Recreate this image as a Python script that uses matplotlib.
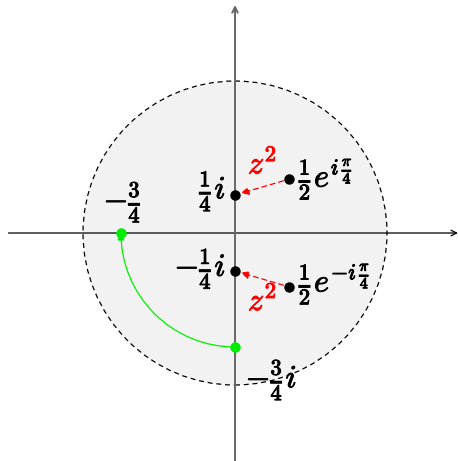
import numpy as np
import matplotlib.pyplot as plt
import matplotlib.patheffects as pe
from matplotlib.patches import Circle, FancyArrowPatch
from matplotlib.path import Path

plt.rcParams['mathtext.fontset'] = 'cm'

# points in the complex plane (re, im)
w_up = (np.sqrt(2) / 4, np.sqrt(2) / 4)      # 1/2 e^{i pi/4}
w_down = (np.sqrt(2) / 4, -np.sqrt(2) / 4)   # 1/2 e^{-i pi/4}
z_up = (0.0, 0.25)
z_down = (0.0, -0.25)
g_start = (0.0, -0.75)
g_end = (-0.75, 0.0)
radius = 1.0

fig = plt.figure(figsize=(4.58, 4.61), dpi=100)
ax = fig.add_axes([0, 0, 1, 1])
ax.set_xlim(-1.546, 1.467)
ax.set_ylim(-1.5, 1.533)
ax.set_aspect('equal')
ax.axis('off')

# unit disc
ax.add_patch(Circle((0, 0), radius, facecolor='#f2f2f2', edgecolor='black',
                    linestyle=(0, (4, 3)), linewidth=0.9, zorder=1))

# axes
ax.annotate('', xy=(1.467, 0), xytext=(-1.49, 0),
            arrowprops=dict(arrowstyle='->', color='black', lw=0.9,
                            shrinkA=0, shrinkB=0), zorder=2)
ax.annotate('', xy=(0, 1.5), xytext=(0, -1.5),
            arrowprops=dict(arrowstyle='->', color='#666666', lw=1.4,
                            shrinkA=0, shrinkB=0), zorder=2)

# z^2 arrows
for src, dst in [(w_up, z_up), (w_down, z_down)]:
    ax.annotate('', xy=dst, xytext=src,
                arrowprops=dict(arrowstyle='-|>,head_length=0.5,head_width=0.22',
                                color='red', lw=0.9, linestyle=(0, (4, 3)),
                                shrinkA=4, shrinkB=4), zorder=3)

# green quarter arc from -3/4 i to -3/4
arc = Path.arc(180, 270)
verts = arc.vertices[::-1] * 0.75
ax.add_patch(FancyArrowPatch(path=Path(verts, arc.codes),
                             arrowstyle='-|>,head_length=4,head_width=2',
                             color='#00ee00', lw=0.9, shrinkA=4, shrinkB=4,
                             zorder=3))

# points
for p in [w_up, w_down, z_up, z_down]:
    ax.plot(*p, 'o', color='black', ms=6.5, zorder=4)
for p in [g_start, g_end]:
    ax.plot(*p, 'o', color='#00ee00', ms=6.5, zorder=4)

fs = 23
bold_k = [pe.withStroke(linewidth=0.7, foreground='black')]
bold_r = [pe.withStroke(linewidth=0.7, foreground='red')]

ax.text(-0.06, 0.27, r'$\frac{1}{4}i$', fontsize=fs, ha='right', va='center',
        path_effects=bold_k)
ax.text(-0.06, -0.24, r'$-\frac{1}{4}i$', fontsize=fs, ha='right', va='center',
        path_effects=bold_k)
ax.text(0.42, 0.35, r'$\frac{1}{2}e^{i\,\frac{\pi}{4}}$', fontsize=fs,
        ha='left', va='center', path_effects=bold_k)
ax.text(0.42, -0.34, r'$\frac{1}{2}e^{-i\,\frac{\pi}{4}}$', fontsize=fs,
        ha='left', va='center', path_effects=bold_k)
ax.text(-0.74, 0.2, r'$-\frac{3}{4}$', fontsize=fs, ha='center', va='center',
        path_effects=bold_k)
ax.text(0.07, -0.97, r'$-\frac{3}{4}i$', fontsize=fs, ha='left', va='center',
        path_effects=bold_k)
ax.text(0.18, 0.45, r'$z^2$', fontsize=fs, color='red', ha='center',
        va='center', path_effects=bold_r)
ax.text(0.18, -0.45, r'$z^2$', fontsize=fs, color='red', ha='center',
        va='center', path_effects=bold_r)

fig.savefig('out.png', dpi=100)
